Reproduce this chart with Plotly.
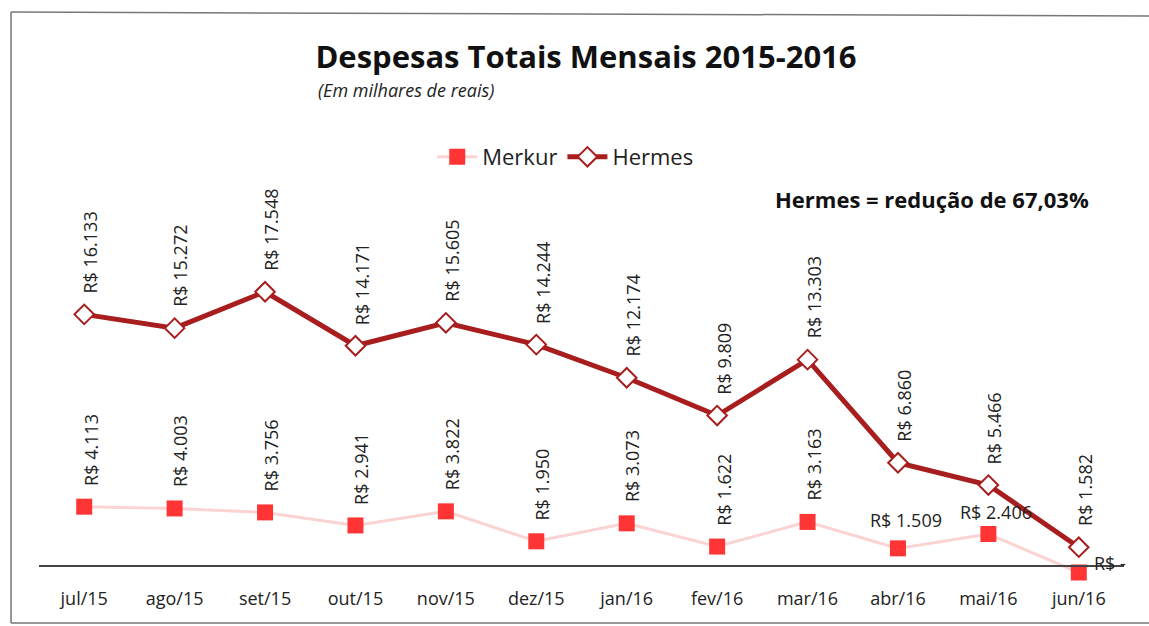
import plotly.graph_objects as go

# ---------------- data ----------------
months = ["jul/15", "ago/15", "set/15", "out/15", "nov/15", "dez/15",
          "jan/16", "fev/16", "mar/16", "abr/16", "mai/16", "jun/16"]
merkur = [4113, 4003, 3756, 2941, 3822, 1950, 3073, 1622, 3163, 1509, 2406, 0]
hermes = [16133, 15272, 17548, 14171, 15605, 14244, 12174, 9809, 13303, 6860, 5466, 1582]

title_text = "Despesas Totais Mensais 2015-2016"
subtitle_text = "(Em milhares de reais)"
note_text = "Hermes = redução de 67,03%"


def brl(v):
    if v == 0:
        return "R$ -"
    return "R$ " + f"{v:,}".replace(",", ".")


FONT = "Open Sans"
HERMES_C = "#A81E1E"
MERKUR_C = "#FF3535"
MERKUR_LINE = "#FBD3D3"

fig = go.Figure()
fig.add_trace(go.Scatter(
    x=months, y=merkur, name="Merkur", mode="lines+markers",
    line=dict(color=MERKUR_LINE, width=3),
    marker=dict(symbol="square", size=16, color=MERKUR_C),
    cliponaxis=False,
))
fig.add_trace(go.Scatter(
    x=months, y=hermes, name="Hermes", mode="lines+markers",
    line=dict(color=HERMES_C, width=5),
    marker=dict(symbol="diamond", size=15, color="white",
                line=dict(color=HERMES_C, width=2)),
    cliponaxis=False,
))

annotations = []
lab_font = dict(family=FONT, size=18, color="#222")
# Hermes labels: rotated above the points
for m, v in zip(months, hermes):
    annotations.append(dict(x=m, y=v, xref="x", yref="y", text=brl(v),
                            textangle=-90, showarrow=False, xanchor="center",
                            yanchor="bottom", yshift=19, xshift=6, font=lab_font))
# Merkur labels
horizontal_idx = {9: 14, 10: 8}
for i, (m, v) in enumerate(zip(months, merkur)):
    if v == 0:
        annotations.append(dict(x=m, y=v, xref="x", yref="y", text=brl(v),
                                showarrow=False, xanchor="left", yanchor="middle",
                                xshift=13, yshift=10, font=lab_font))
    elif i in horizontal_idx:
        annotations.append(dict(x=m, y=v, xref="x", yref="y", text=brl(v),
                                showarrow=False, xanchor="center", yanchor="bottom",
                                yshift=horizontal_idx[i], xshift=8, font=lab_font))
    else:
        annotations.append(dict(x=m, y=v, xref="x", yref="y", text=brl(v),
                                textangle=-90, showarrow=False, xanchor="center",
                                yanchor="bottom", yshift=19, xshift=6, font=lab_font))

annotations.append(dict(x=0.2553, y=1.2857, xref="paper", yref="paper",
                        text="<i>" + subtitle_text + "</i>", showarrow=False,
                        xanchor="left", yanchor="middle",
                        font=dict(family=FONT, size=18, color="#222")))
annotations.append(dict(x=0.823, y=1.0026, xref="paper", yref="paper",
                        text="<b>" + note_text + "</b>", showarrow=False,
                        xanchor="center", yanchor="middle",
                        font=dict(family=FONT, size=22, color="#111")))

shapes = [
    dict(type="line", xref="paper", yref="paper", x0=-0.0258, x1=1.04,
         y0=1.488, y1=1.478, line=dict(color="#777", width=1.5)),
    dict(type="line", xref="paper", yref="paper", x0=-0.0258, x1=-0.0258,
         y0=1.488, y1=-0.0987, line=dict(color="#777", width=1.5)),
    dict(type="line", xref="paper", yref="paper", x0=-0.0258, x1=1.04,
         y0=-0.0987, y1=-0.0987, line=dict(color="#777", width=1.5)),
]

fig.update_layout(
    width=1149, height=626,
    margin=dict(l=39, r=25, t=200, b=41),
    paper_bgcolor="white", plot_bgcolor="white",
    font=dict(family=FONT, color="#222"),
    title=dict(text="<b>" + title_text + "</b>", x=0.51, xanchor="center",
               y=0.909, yanchor="middle", yref="container",
               font=dict(family=FONT, size=31, color="#111")),
    legend=dict(orientation="h", x=0.485, y=1.1117, xanchor="center",
                yanchor="middle", font=dict(family=FONT, size=22, color="#222"),
                bgcolor="rgba(0,0,0,0)", itemwidth=40),
    xaxis=dict(type="category", range=[-0.5, 11.5], anchor="free", position=0.0494,
               showline=True, linecolor="#444", linewidth=1.5, showgrid=False,
               ticks="", ticklabelstandoff=17,
               tickfont=dict(family=FONT, size=18, color="#222"),
               zeroline=False, fixedrange=True),
    yaxis=dict(range=[-781, 23281], visible=False, showgrid=False,
               zeroline=False, fixedrange=True),
    annotations=annotations,
    shapes=shapes,
    showlegend=True,
)

fig.write_html("out.html", config={"displayModeBar": False})

# remove the browser's default page margin so the figure sits at (0, 0)
with open("out.html", "r", encoding="utf-8") as f:
    html = f.read()
html = html.replace("<head>", "<head><style>html,body{margin:0;padding:0;overflow:hidden;}</style>", 1)
with open("out.html", "w", encoding="utf-8") as f:
    f.write(html)
